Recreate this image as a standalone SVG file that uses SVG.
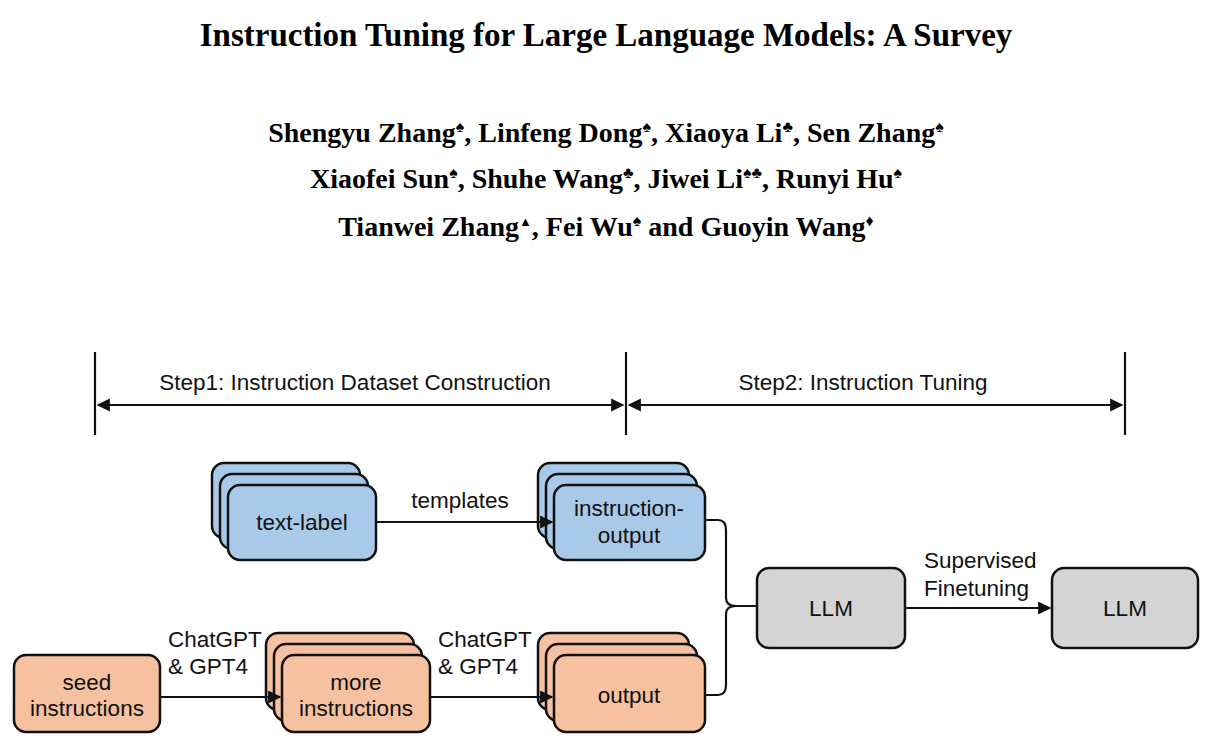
<svg xmlns="http://www.w3.org/2000/svg" width="1214" height="755" viewBox="0 0 1214 755">
<style>
.t{font-family:"Liberation Serif",serif;font-weight:bold;fill:#000;text-anchor:middle}
.s{font-family:"Liberation Sans",Arial,sans-serif;fill:#111;font-size:22.5px}
.c{text-anchor:middle}
.b{fill:#a9c9e9;stroke:#111;stroke-width:2.5}
.o{fill:#f5c1a0;stroke:#111;stroke-width:2.5}
.g{fill:#d4d4d4;stroke:#111;stroke-width:2.5}
.l{fill:none;stroke:#111;stroke-width:2.2}
</style>
<defs>
<marker id="a" viewBox="0 0 10 10" refX="9" refY="5" markerWidth="6" markerHeight="6" orient="auto-start-reverse"><path d="M0,0 L10,5 L0,10 z" fill="#111"/></marker>
</defs>
<rect width="1214" height="755" fill="#fff"/>
<text class="t" x="606" y="46" font-size="33">Instruction Tuning for Large Language Models: A Survey</text>
<text class="t" x="606" y="142" font-size="28">Shengyu Zhang<tspan font-size="16" dy="-10">♠</tspan><tspan dy="10">, Linfeng Dong</tspan><tspan font-size="16" dy="-10">♠</tspan><tspan dy="10">, Xiaoya Li</tspan><tspan font-size="16" dy="-10">♣</tspan><tspan dy="10">, Sen Zhang</tspan><tspan font-size="16" dy="-10">♠</tspan></text>
<text class="t" x="606" y="188" font-size="28">Xiaofei Sun<tspan font-size="16" dy="-10">♠</tspan><tspan dy="10">, Shuhe Wang</tspan><tspan font-size="16" dy="-10">♣</tspan><tspan dy="10">, Jiwei Li</tspan><tspan font-size="16" dy="-10">♠♣</tspan><tspan dy="10">, Runyi Hu</tspan><tspan font-size="16" dy="-10">♠</tspan></text>
<text class="t" x="606" y="236" font-size="28">Tianwei Zhang<tspan font-size="13" dy="-10">▲</tspan><tspan dy="10">, Fei Wu</tspan><tspan font-size="16" dy="-10">♠</tspan><tspan dy="10"> and Guoyin Wang</tspan><tspan font-size="16" dy="-10">♦</tspan></text>

<g id="steps">
<line class="l" x1="95" y1="352" x2="95" y2="435"/>
<line class="l" x1="626" y1="352" x2="626" y2="435"/>
<line class="l" x1="1125" y1="352" x2="1125" y2="435"/>
<line class="l" x1="98" y1="405" x2="623" y2="405" marker-start="url(#a)" marker-end="url(#a)"/>
<line class="l" x1="629" y1="405" x2="1122" y2="405" marker-start="url(#a)" marker-end="url(#a)"/>
<text class="s c" x="355" y="390">Step1: Instruction Dataset Construction</text>
<text class="s c" x="863" y="390">Step2: Instruction Tuning</text>
</g>

<g id="text-label">
<rect class="b" x="212" y="463" width="148" height="75" rx="12"/>
<rect class="b" x="220" y="474" width="148" height="75" rx="12"/>
<rect class="b" x="228" y="485" width="148" height="75" rx="12"/>
<text class="s c" x="302" y="530">text-label</text>
</g>
<g id="instruction-output">
<rect class="b" x="538" y="463" width="151" height="75" rx="12"/>
<rect class="b" x="546" y="474" width="151" height="75" rx="12"/>
<rect class="b" x="554" y="485" width="151" height="75" rx="12"/>
<text class="s c" x="629" y="516">instruction-</text>
<text class="s c" x="629" y="543">output</text>
</g>
<g id="seed">
<rect class="o" x="14" y="655" width="146" height="77" rx="12"/>
<text class="s c" x="87" y="690">seed</text>
<text class="s c" x="87" y="716">instructions</text>
</g>
<g id="more">
<rect class="o" x="266" y="633" width="148" height="77" rx="12"/>
<rect class="o" x="274" y="644" width="148" height="77" rx="12"/>
<rect class="o" x="282" y="655" width="148" height="77" rx="12"/>
<text class="s c" x="356" y="690">more</text>
<text class="s c" x="356" y="716">instructions</text>
</g>
<g id="output">
<rect class="o" x="538" y="633" width="151" height="77" rx="12"/>
<rect class="o" x="546" y="644" width="151" height="77" rx="12"/>
<rect class="o" x="554" y="655" width="151" height="77" rx="12"/>
<text class="s c" x="629" y="703">output</text>
</g>
<g id="llm1">
<rect class="g" x="757" y="568" width="148" height="80" rx="12"/>
<text class="s c" x="831" y="616">LLM</text>
</g>
<g id="llm2">
<rect class="g" x="1052" y="568" width="146" height="80" rx="12"/>
<text class="s c" x="1125" y="616">LLM</text>
</g>

<g id="connectors">
<line class="l" x1="376" y1="522" x2="552" y2="522" marker-end="url(#a)"/>
<line class="l" x1="160" y1="697" x2="280" y2="697" marker-end="url(#a)"/>
<line class="l" x1="430" y1="697" x2="552" y2="697" marker-end="url(#a)"/>
<path class="l" d="M705,520 H718 Q726,520 726,530 V598 Q726,606 736,606 M705,695 H718 Q726,695 726,685 V614 Q726,606 736,606 H757"/>
<line class="l" x1="905" y1="608" x2="1050" y2="608" marker-end="url(#a)"/>
<text class="s c" x="460" y="508">templates</text>
<text class="s" x="168" y="647">ChatGPT</text>
<text class="s" x="168" y="674">&amp; GPT4</text>
<text class="s" x="438" y="647">ChatGPT</text>
<text class="s" x="438" y="674">&amp; GPT4</text>
<text class="s" x="924" y="568">Supervised</text>
<text class="s" x="924" y="596">Finetuning</text>
</g>
</svg>
